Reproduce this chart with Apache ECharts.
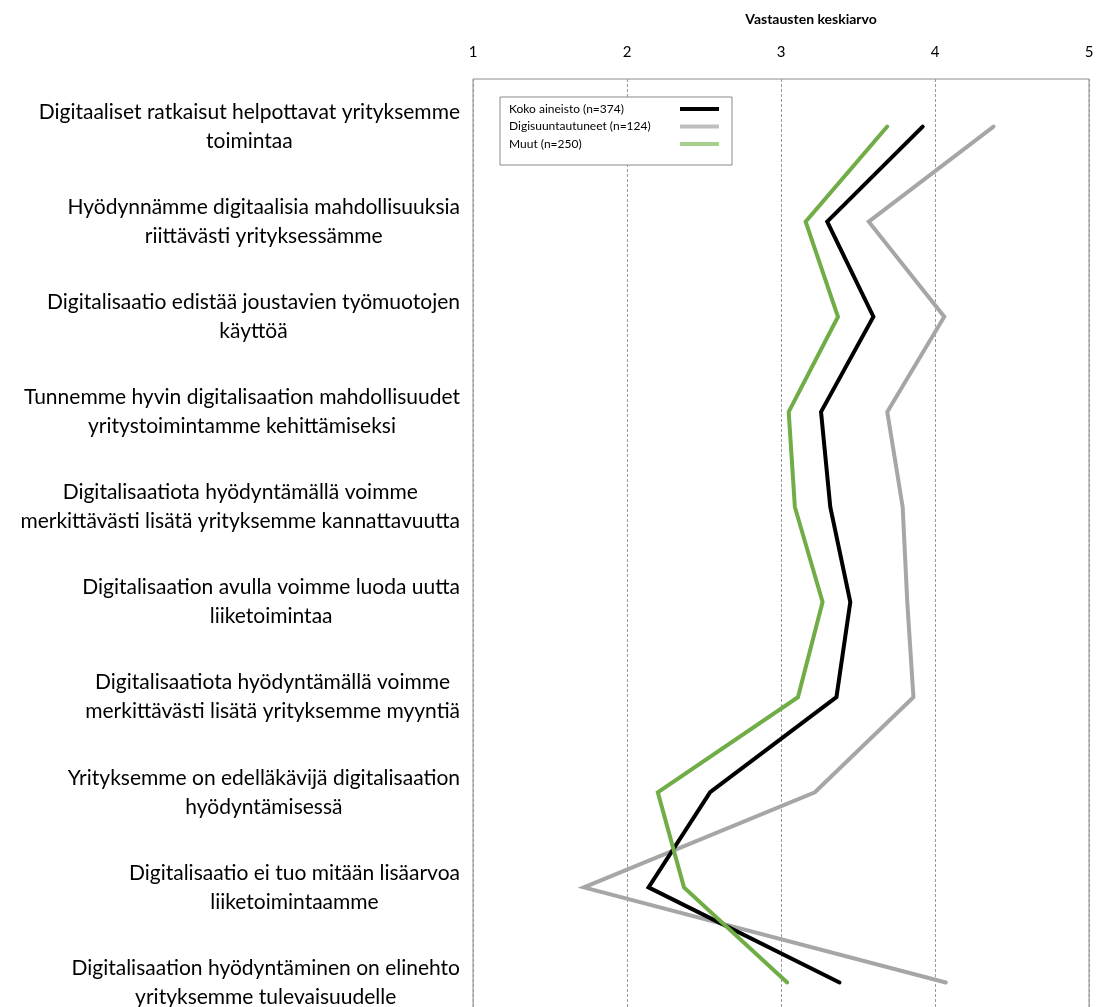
<!DOCTYPE html>
<html>
<head>
<meta charset="utf-8">
<script src="https://cdn.jsdelivr.net/npm/echarts@6/dist/echarts.min.js"></script>
<style>
  html, body { margin: 0; padding: 0; background: #fff; }
  #chart { width: 1109px; height: 1007px; }
</style>
</head>
<body>
<div id="chart"></div>
<script>
// Survey statements (each line break is where the label wraps)
const statements = [
  'Digitaaliset ratkaisut helpottavat yrityksemme\ntoimintaa',
  'Hyödynnämme digitaalisia mahdollisuuksia\nriittävästi yrityksessämme',
  'Digitalisaatio edistää joustavien työmuotojen\nkäyttöä',
  'Tunnemme hyvin digitalisaation mahdollisuudet\nyritystoimintamme kehittämiseksi',
  'Digitalisaatiota hyödyntämällä voimme\nmerkittävästi lisätä yrityksemme kannattavuutta',
  'Digitalisaation avulla voimme luoda uutta\nliiketoimintaa',
  'Digitalisaatiota hyödyntämällä voimme\nmerkittävästi lisätä yrityksemme myyntiä',
  'Yrityksemme on edelläkävijä digitalisaation\nhyödyntämisessä',
  'Digitalisaatio ei tuo mitään lisäarvoa\nliiketoimintaamme',
  'Digitalisaation hyödyntäminen on elinehto\nyrityksemme tulevaisuudelle'
];

// Mean answers on a 1–5 scale per group
const kokoAineisto = [3.92, 3.30, 3.60, 3.26, 3.32, 3.45, 3.36, 2.54, 2.14, 3.38];
const digisuuntautuneet = [4.38, 3.57, 4.06, 3.69, 3.79, 3.82, 3.86, 3.22, 1.72, 4.07];
const muut = [3.69, 3.16, 3.37, 3.05, 3.09, 3.27, 3.11, 2.20, 2.37, 3.04];

const seriesNames = ['Koko aineisto (n=374)', 'Digisuuntautuneet (n=124)', 'Muut (n=250)'];
const axisTitle = 'Vastausten keskiarvo';
const scaleMin = 1, scaleMax = 5, scaleStep = 1;

const FONT = 'Lato, "Open Sans", sans-serif';

const chart = echarts.init(document.getElementById('chart'));

function lineSeries(name, data, color, z) {
  return {
    name: name,
    type: 'line',
    data: data,
    z: z,
    showSymbol: false,
    symbol: 'none',
    lineStyle: { color: color, width: 4, cap: 'round', join: 'miter' },
    itemStyle: { color: color },
    emphasis: { disabled: true },
    animation: false
  };
}

chart.setOption({
  backgroundColor: '#fff',
  animation: false,
  title: {
    text: axisTitle,
    left: 806,
    top: 7,
    textAlign: 'center',
    textStyle: { fontFamily: FONT, fontSize: 14, fontWeight: 'bold', color: '#000' }
  },
  legend: {
    orient: 'vertical',
    left: 500,
    top: 97,
    align: 'right',
    backgroundColor: '#fff',
    borderColor: '#8a8a8a',
    borderWidth: 1,
    borderRadius: 0,
    padding: [5, 13, 14, 9],
    itemGap: 3.5,
    itemWidth: 39,
    itemHeight: 4,
    icon: 'rect',
    selectedMode: false,
    formatter: function (name) { return '{t|' + name + '}'; },
    textStyle: {
      fontFamily: FONT, fontSize: 12, color: '#000', width: 166, lineHeight: 14,
      rich: { t: { align: 'left', fontFamily: FONT, fontSize: 12, color: '#000', lineHeight: 14 } }
    },
    data: [
      { name: seriesNames[0], itemStyle: { color: '#000000' } },
      { name: seriesNames[1], itemStyle: { color: '#bfbfbf' } },
      { name: seriesNames[2], itemStyle: { color: '#a9d18e' } }
    ]
  },
  grid: {
    left: 473,
    top: 79,
    width: 616,
    height: 951,
    outerBoundsMode: 'none',
    show: true,
    borderColor: '#8c8c8c',
    borderWidth: 1,
    containLabel: false
  },
  xAxis: {
    type: 'value',
    position: 'top',
    min: scaleMin,
    max: scaleMax,
    interval: scaleStep,
    axisLine: { show: false },
    axisTick: { show: false },
    axisLabel: { fontFamily: FONT, fontSize: 15, color: '#000', margin: 19 },
    splitLine: { show: true, lineStyle: { color: '#9a9a9a', type: [3, 2], width: 1 } }
  },
  yAxis: {
    type: 'category',
    inverse: true,
    data: statements,
    boundaryGap: true,
    axisLine: { show: false },
    axisTick: { show: false },
    splitLine: { show: false },
    axisLabel: {
      align: 'right',
      margin: 13,
      formatter: function (v) {
        return v.split('\n').map(function (l) { return '{c|' + l + '}'; }).join('\n');
      },
      rich: {
        c: { align: 'center', fontFamily: FONT, fontSize: 21, lineHeight: 29, color: '#000' }
      }
    }
  },
  series: [
    lineSeries(seriesNames[0], kokoAineisto, '#000000', 3),
    lineSeries(seriesNames[1], digisuuntautuneet, '#a6a6a6', 2),
    lineSeries(seriesNames[2], muut, '#70ad47', 4)
  ]
});
</script>
</body>
</html>
